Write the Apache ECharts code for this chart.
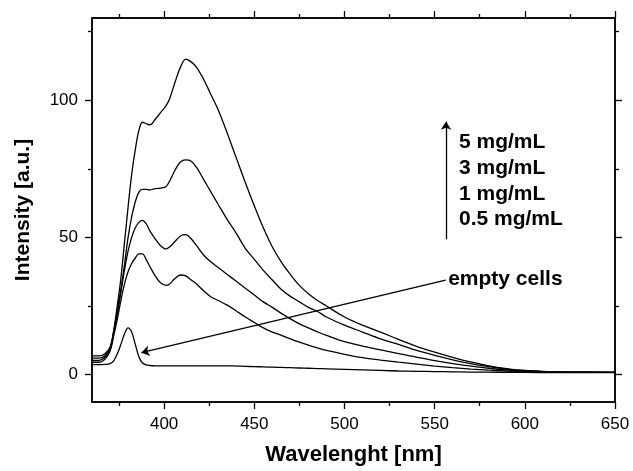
<!DOCTYPE html>
<html>
<head>
    <meta charset="utf-8">
    <title>Intensity vs Wavelength</title>
    <script src="https://cdn.jsdelivr.net/npm/echarts@6/dist/echarts.min.js"></script>
    <style type="text/css">
        html, body {
            margin: 0;
            padding: 0;
            background: #ffffff;
        }
        #chart {
            width: 633px;
            height: 471px;
        }
    </style>
</head>
<body>
<div id="chart"></div>
<script>
    // 波长 (nm)
    var wavelength = [360, 364, 367, 370, 372, 374, 376, 378, 380, 382, 384, 386, 388, 390, 392, 395, 398, 401, 403, 406,
        409, 412, 415, 418, 422, 426, 430, 435, 440, 445, 450, 455, 460, 465, 470, 475, 480, 485, 490, 500,
        510, 520, 530, 540, 550, 560, 570, 580, 590, 600, 615, 630, 650];

    var conc5 = [6.8, 6.8, 7.5, 10, 16, 25, 35, 48, 61, 73, 82, 89, 92, 91.5, 91, 93, 95.5, 98, 100.5, 106.5,
        112, 115, 114, 112, 107.5, 102, 96.5, 88, 79, 70, 61.5, 53.5, 46.5, 41, 36.5, 32.5, 29.5, 27, 25, 21,
        18, 15.5, 12.8, 10.3, 8.2, 6.3, 4.6, 3.2, 2.2, 1.5, 1.0, 0.9, 0.8];

    var conc3 = [6.0, 6.0, 6.8, 9.5, 15.5, 23, 31, 40, 50, 57.5, 63, 66.5, 67.5, 67.5, 67.3, 67.8, 68, 68.5, 70.5, 74.5,
        77.5, 78.3, 77.8, 75.5, 71, 66.5, 62, 56.5, 51.5, 46, 42, 38, 34.5, 31, 28.5, 26.5, 24.5, 23, 21, 18,
        15.5, 13, 11, 8.8, 7, 5.4, 4, 2.9, 2.0, 1.4, 1.0, 0.9, 0.8];

    var conc1 = [5.2, 5.2, 6.2, 9, 15, 22, 30, 38, 45, 50, 53.5, 55.5, 56.2, 55, 52.5, 49.5, 47, 45.8, 46.5, 48.5,
        50.5, 51, 49.5, 47, 43.5, 41, 39, 36.5, 34, 31.5, 29, 26.5, 24.5, 22.3, 20.3, 18.5, 17, 15.6, 14.3, 12,
        10.4, 9, 7.6, 6.4, 5.1, 4.0, 3.1, 2.3, 1.7, 1.3, 1.0, 0.9, 0.8];

    var conc05 = [4.5, 4.5, 5.5, 8.5, 14, 20, 27, 33, 37.5, 40.5, 42.5, 44, 44, 42, 39.5, 36, 33.5, 32.5, 33, 35,
        36.3, 36, 34.5, 33, 30.5, 28.3, 27, 25.3, 23.2, 21, 19, 17, 15.5, 14.3, 13, 11.8, 10.7, 9.7, 8.8, 7.4,
        6.2, 5.3, 4.5, 3.8, 3.1, 2.5, 2.0, 1.6, 1.3, 1.0, 0.9, 0.8, 0.8];

    var emptyCells = [3.6, 3.6, 3.7, 4.0, 5.0, 7.5, 11, 14.8, 17, 15.5, 11, 6.5, 4.2, 3.5, 3.3, 3.2, 3.2, 3.2, 3.2, 3.2,
        3.2, 3.2, 3.2, 3.2, 3.2, 3.2, 3.2, 3.2, 3.1, 3.0, 2.9, 2.8, 2.7, 2.6, 2.5, 2.4, 2.3, 2.2, 2.1, 1.9,
        1.7, 1.5, 1.3, 1.2, 1.1, 1.0, 0.9, 0.9, 0.8, 0.8, 0.7, 0.7, 0.7];

    // 刻度
    var xMajorTicks = [400, 450, 500, 550, 600, 650];
    var xMinorTicks = [375, 425, 475, 525, 575, 625];
    var yMajorTicks = [0, 50, 100];
    var yMinorTicks = [25, 75, 125];

    var concLabels = ['5 mg/mL', '3 mg/mL', '1 mg/mL', '0.5 mg/mL'];
    var emptyLabel = 'empty cells';

    var FONT = 'Liberation Sans, Arial, sans-serif';
    var axisColor = '#000';

    function pairs(ys) {
        var out = [];
        for (var i = 0; i < wavelength.length; i++) {
            out.push([wavelength[i], ys[i]]);
        }
        return out;
    }

    function xAxisOf(pos, ticks, len, withLabel) {
        return {
            type: 'value',
            position: pos,
            min: 360,
            max: 650,
            axisLine: {show: true, onZero: false, lineStyle: {color: axisColor, width: 1.5}},
            axisTick: {show: true, inside: false, length: len, customValues: ticks, lineStyle: {color: axisColor, width: 1.3}},
            axisLabel: withLabel ? {
                show: true, customValues: ticks, margin: 14,
                color: '#000', fontFamily: FONT, fontSize: 17
            } : {show: false},
            splitLine: {show: false}
        };
    }

    function yAxisOf(pos, ticks, len, withLabel) {
        return {
            type: 'value',
            position: pos,
            min: -10,
            max: 130,
            axisLine: {show: true, onZero: false, lineStyle: {color: axisColor, width: 1.5}},
            axisTick: {show: true, inside: false, length: len, customValues: ticks, lineStyle: {color: axisColor, width: 1.3}},
            axisLabel: withLabel ? {
                show: true, customValues: ticks, margin: 14,
                color: '#000', fontFamily: FONT, fontSize: 17
            } : {show: false},
            splitLine: {show: false}
        };
    }

    var xMain = xAxisOf('bottom', xMajorTicks, 7, true);
    xMain.name = 'Wavelenght [nm]';
    xMain.nameLocation = 'middle';
    xMain.nameGap = 42;
    xMain.nameTextStyle = {color: '#000', fontFamily: FONT, fontSize: 22, fontWeight: 'bold'};

    var yMain = yAxisOf('left', yMajorTicks, 7, true);
    yMain.name = 'Intensity [a.u.]';
    yMain.nameLocation = 'middle';
    yMain.nameGap = 58;
    yMain.nameTextStyle = {color: '#000', fontFamily: FONT, fontSize: 21, fontWeight: 'bold'};

    var lineStyle = {color: '#000', width: 1.3};

    function curve(name, ys) {
        return {
            name: name,
            type: 'line',
            xAxisIndex: 0,
            yAxisIndex: 0,
            data: pairs(ys),
            showSymbol: false,
            smooth: 0.35,
            lineStyle: lineStyle,
            itemStyle: {color: '#000'},
            silent: true
        };
    }

    var labelStyle = {
        show: true, position: 'right', distance: 0,
        color: '#000', fontFamily: FONT, fontSize: 21, fontWeight: 'bold',
        formatter: function (p) {
            return p.value;
        }
    };

    var emptySeries = curve(emptyLabel, emptyCells);
    emptySeries.markLine = {
        silent: true,
        symbol: ['none', 'arrow'],
        symbolSize: 8,
        label: {show: false},
        lineStyle: {color: '#000', width: 1.3, type: 'solid'},
        data: [
            [{coord: [556.1, 34.4]}, {coord: [387.4, 8.0]}],
            [{coord: [556.3, 49.3]}, {coord: [556.3, 92.2]}]
        ]
    };
    emptySeries.markPoint = {
        silent: true,
        symbol: 'circle',
        symbolSize: 0,
        label: labelStyle,
        data: [
            {coord: [563.5, 84.8], value: concLabels[0]},
            {coord: [563.5, 75.4], value: concLabels[1]},
            {coord: [563.5, 65.9], value: concLabels[2]},
            {coord: [563.5, 56.6], value: concLabels[3]},
            {coord: [557.5, 34.8], value: emptyLabel}
        ]
    };

    var chart = echarts.init(document.getElementById('chart'));
    chart.setOption({
        animation: false,
        backgroundColor: '#ffffff',
        grid: {left: 92, right: 18, top: 18, bottom: 66, containLabel: false},
        xAxis: [
            xMain,
            xAxisOf('bottom', xMinorTicks, 4, false),
            xAxisOf('top', xMajorTicks, 7, false),
            xAxisOf('top', xMinorTicks, 4, false)
        ],
        yAxis: [
            yMain,
            yAxisOf('left', yMinorTicks, 4, false),
            yAxisOf('right', yMajorTicks, 7, false),
            yAxisOf('right', yMinorTicks, 4, false)
        ],
        series: [
            curve('5 mg/mL', conc5),
            curve('3 mg/mL', conc3),
            curve('1 mg/mL', conc1),
            curve('0.5 mg/mL', conc05),
            emptySeries
        ]
    });
</script>
</body>
</html>
